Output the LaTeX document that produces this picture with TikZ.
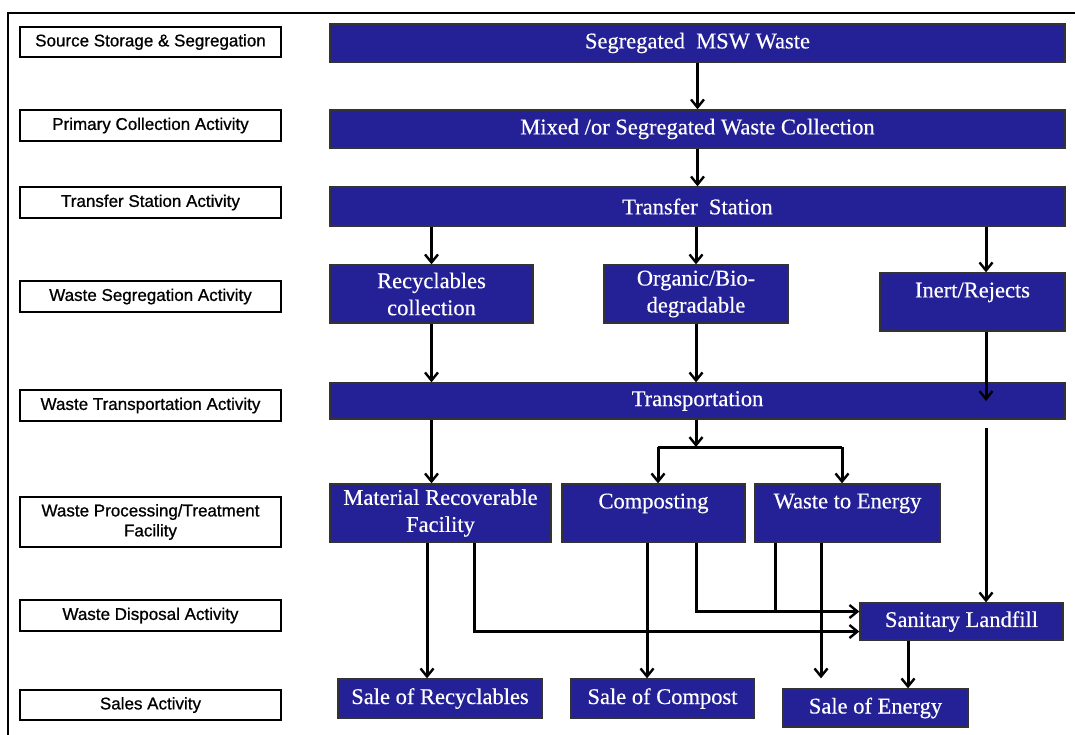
\documentclass[tikz,border=0pt]{standalone}
\usepackage{fontspec}
\setmainfont{Liberation Serif}[UprightFeatures={FakeBold=0.4}]
\newfontfamily\labfont{Liberation Sans}[UprightFeatures={FakeBold=0.8}]
\usepackage{xcolor}
\usepackage{tikz}
\usetikzlibrary{arrows.meta,positioning}

\definecolor{wmblue}{RGB}{36,32,150}

\begin{document}
\begin{tikzpicture}[x=1pt, y=-1pt,
  wmlab/.style={draw=black, line width=1.8pt, fill=white, align=center, inner sep=0pt, minimum width=261pt, minimum height=31pt, font=\labfont\fontsize{17}{20}\selectfont},
  wmbox/.style={draw=black!80, line width=1.3pt, fill=wmblue, text=white, align=center, inner sep=0pt, font=\fontsize{22.5}{27}\selectfont},
  wmarr/.style={-{Straight Barb[length=8pt,width=13pt,line width=2.4pt]}, line width=3pt},
  wmline/.style={line width=3pt}
]
\useasboundingbox (0,0) rectangle (1075,735);
% outer frame
\draw[line width=2.2pt] (8,735) -- (8,13) -- (1075,13);

% activity labels
\node[wmlab, minimum height=30pt] (l1) at (150.5,42) {Source Storage \& Segregation};
\node[wmlab] (l2) at (150.5,125.5) {Primary Collection Activity};
\node[wmlab] (l3) at (150.5,202.5) {Transfer Station Activity};
\node[wmlab] (l4) at (150.5,296.5) {Waste Segregation Activity};
\node[wmlab] (l5) at (150.5,405.5) {Waste Transportation Activity};
\node[wmlab, minimum height=50pt] (l6) at (150.5,522) {Waste Processing/Treatment\\Facility};
\node[wmlab] (l7) at (150.5,615.5) {Waste Disposal Activity};
\node[wmlab, minimum height=30pt] (l8) at (150.5,705) {Sales Activity};

% flow boxes
\node[wmbox, minimum width=735pt, minimum height=38pt] (msw) at (697.5,43) {Segregated\ \ MSW Waste};
\node[wmbox, minimum width=735pt, minimum height=38pt] (coll) at (697.5,129) {Mixed /or Segregated Waste Collection};
\node[wmbox, minimum width=735pt, minimum height=39pt] (trans) at (697.5,206.5) {Transfer\ \ Station};
\node[wmbox, minimum width=203pt, minimum height=58pt] (recy) at (431.5,294) {Recyclables\\collection};
\node[wmbox, minimum width=184pt, minimum height=58pt] (orga) at (696,294) {Organic/Bio-\\degradable};
\node[wmbox, minimum width=185pt, minimum height=58pt] (inert) at (972.5,302) {Inert/Rejects\\[-3pt]\mbox{}};
\node[wmbox, minimum width=735pt, minimum height=36pt] (tport) at (697.5,401) {Transportation};
\node[wmbox, minimum width=221pt, minimum height=58pt] (mrf) at (440.5,513) {Material Recoverable\\Facility};
\node[wmbox, minimum width=183pt, minimum height=58pt] (comp) at (653.5,513) {Composting\\[-3pt]\mbox{}};
\node[wmbox, minimum width=185pt, minimum height=58pt] (wte) at (847.5,513) {Waste to Energy\\[-3pt]\mbox{}};
\node[wmbox, minimum width=203pt, minimum height=37pt] (land) at (961.5,621.5) {Sanitary Landfill};
\node[wmbox, minimum width=204pt, minimum height=39pt] (srec) at (440,698.5) {Sale of Recyclables};
\node[wmbox, minimum width=183pt, minimum height=39pt] (scomp) at (662.5,698.5) {Sale of Compost};
\node[wmbox, minimum width=185pt, minimum height=38pt] (sen) at (875.5,708) {Sale of Energy};

% columns of the connectors
\coordinate (xa) at (427,0);
\coordinate (xb) at (474,0);
\coordinate (xc) at (647,0);
\coordinate (xd) at (696,0);
\coordinate (xe) at (775,0);
\coordinate (xf) at (821,0);
\coordinate (xg) at (908,0);
\coordinate (rj) at (986,0);
\coordinate (rjtop) at (986,428);
\coordinate (split) at (696,447);
\coordinate (cL) at (658,447);
\coordinate (cR) at (842,447);
\coordinate (lin) at ([yshift=10pt]land.west);
\coordinate (lout) at ([yshift=-10pt]land.west);

\draw[wmarr] (msw) -- (coll);
\draw[wmarr] (coll) -- (trans);
\draw[wmarr] (recy.north |- trans.south) -- (recy.north);
\draw[wmarr] (orga.north |- trans.south) -- (orga.north);
\draw[wmarr] (rj |- trans.south) -- (rj |- inert.north);
\draw[wmarr] (recy.south) -- (recy.south |- tport.north);
\draw[wmarr] (orga.south) -- (orga.south |- tport.north);
\draw[wmarr] (rj |- inert.south) -- (rj |- tport.center);
\draw[wmarr] (recy.south |- tport.south) -- (recy.south |- mrf.north);
\draw[wmarr] (split |- tport.south) -- (split);
\draw[wmline] (cL) -- (cR);
\draw[wmarr] (cL) -- (cL |- comp.north);
\draw[wmarr] (cR) -- (cR |- wte.north);
\draw[wmarr] (rjtop) -- (rj |- land.north);
\draw[wmarr] (xa |- mrf.south) -- (xa |- srec.north);
\draw[wmarr] (xb |- mrf.south) |- (lout);
\draw[wmarr] (xc |- comp.south) -- (xc |- scomp.north);
\draw[wmarr] (xd |- comp.south) |- (lin);
\draw[wmline] (xe |- wte.south) -- (xe |- lin);
\draw[wmarr, shorten >=10pt] (xf |- wte.south) -- (xf |- sen.north);
\draw[wmarr] (xg |- land.south) -- (xg |- sen.north);
\end{tikzpicture}
\end{document}
